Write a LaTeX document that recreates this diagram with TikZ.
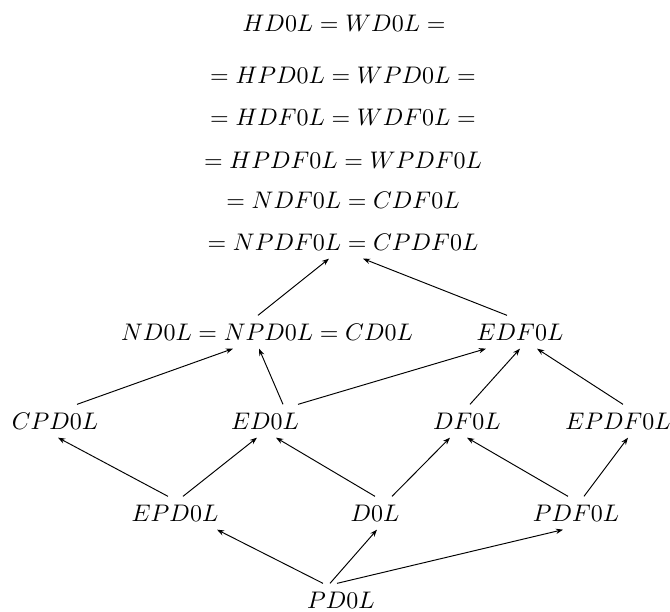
\documentclass[tikz,border=0pt]{standalone}
\usetikzlibrary{arrows.meta,calc}
\begin{document}
\begin{tikzpicture}[x=0.417pt,y=-0.417pt,
  lbl/.style={inner sep=3.33pt},
  arr/.style={-{Stealth[length=3pt,width=2.2pt]}, line width=0.4pt}]
\fill[white] (0,0) rectangle (670,611);
\useasboundingbox (0,0) rectangle (670,611);
% top chain of equalities
\node[lbl] (l1) at (344,23)  {$HD0L = WD0L =$};
\node[lbl] (l2) at (343,75)  {$= HPD0L = WPD0L =$};
\node[lbl] (l3) at (343,117) {$= HDF0L = WDF0L =$};
\node[lbl] (l4) at (343,160) {$= HPDF0L = WPDF0L$};
\node[lbl] (l5) at (343,200) {$= NDF0L = CDF0L$};
\node[lbl] (l6) at (343,242) {$= NPDF0L = CPDF0L$};
% second row
\node[lbl] (nd)  at (267,332) {$ND0L = NPD0L = CD0L$};
\node[lbl] (edf) at (520,332) {$EDF0L$};
% third row
\node[lbl] (cpd)  at (55,421)  {$CPD0L$};
\node[lbl] (ed)   at (265,421) {$ED0L$};
\node[lbl] (df)   at (467,421) {$DF0L$};
\node[lbl] (epdf) at (618,421) {$EPDF0L$};
% fourth row
\node[lbl] (epd) at (175,513) {$EPD0L$};
\node[lbl] (d)   at (375,513) {$D0L$};
\node[lbl] (pdf) at (576,513) {$PDF0L$};
% bottom
\node[lbl] (pd) at (341,600) {$PD0L$};
% arrows
\draw[arr] ($(nd.north)+(-9,0)$)   -- ($(l6.south)+(-14,0)$);
\draw[arr] ($(edf.north)+(-13,0)$) -- ($(l6.south)+(20,0)$);
\draw[arr] ($(cpd.north)+(22,0)$)  -- ($(nd.south)+(-34,0)$);
\draw[arr] ($(ed.north)+(18,0)$)   -- ($(nd.south)+(-8,0)$);
\draw[arr] ($(ed.north)+(33,0)$)   -- ($(edf.south)+(-34,0)$);
\draw[arr] ($(df.north)+(3,0)$)    -- ($(edf.south)+(0,0)$);
\draw[arr] ($(epdf.north)+(5,0)$)  -- ($(edf.south)+(17,0)$);
\draw[arr] ($(epd.north)+(-7,0)$)  -- ($(cpd.south)+(3,0)$);
\draw[arr] ($(epd.north)+(8,0)$)   -- ($(ed.south)+(-8,0)$);
\draw[arr] ($(d.north)+(0,0)$)     -- ($(ed.south)+(11,0)$);
\draw[arr] ($(d.north)+(17,0)$)    -- ($(df.south)+(-17,0)$);
\draw[arr] ($(pdf.north)+(-8,0)$)  -- ($(df.south)+(0,0)$);
\draw[arr] ($(pdf.north)+(8,0)$)   -- ($(epdf.south)+(10,0)$);
\draw[arr] ($(pd.north)+(-18,0)$)  -- ($(epd.south)+(42,0)$);
\draw[arr] ($(pd.north)+(-11,0)$)  -- ($(d.south)+(2,0)$);
\draw[arr] ($(pd.north)+(-4,0)$)   -- ($(pdf.south)+(-13,0)$);
\end{tikzpicture}
\end{document}
